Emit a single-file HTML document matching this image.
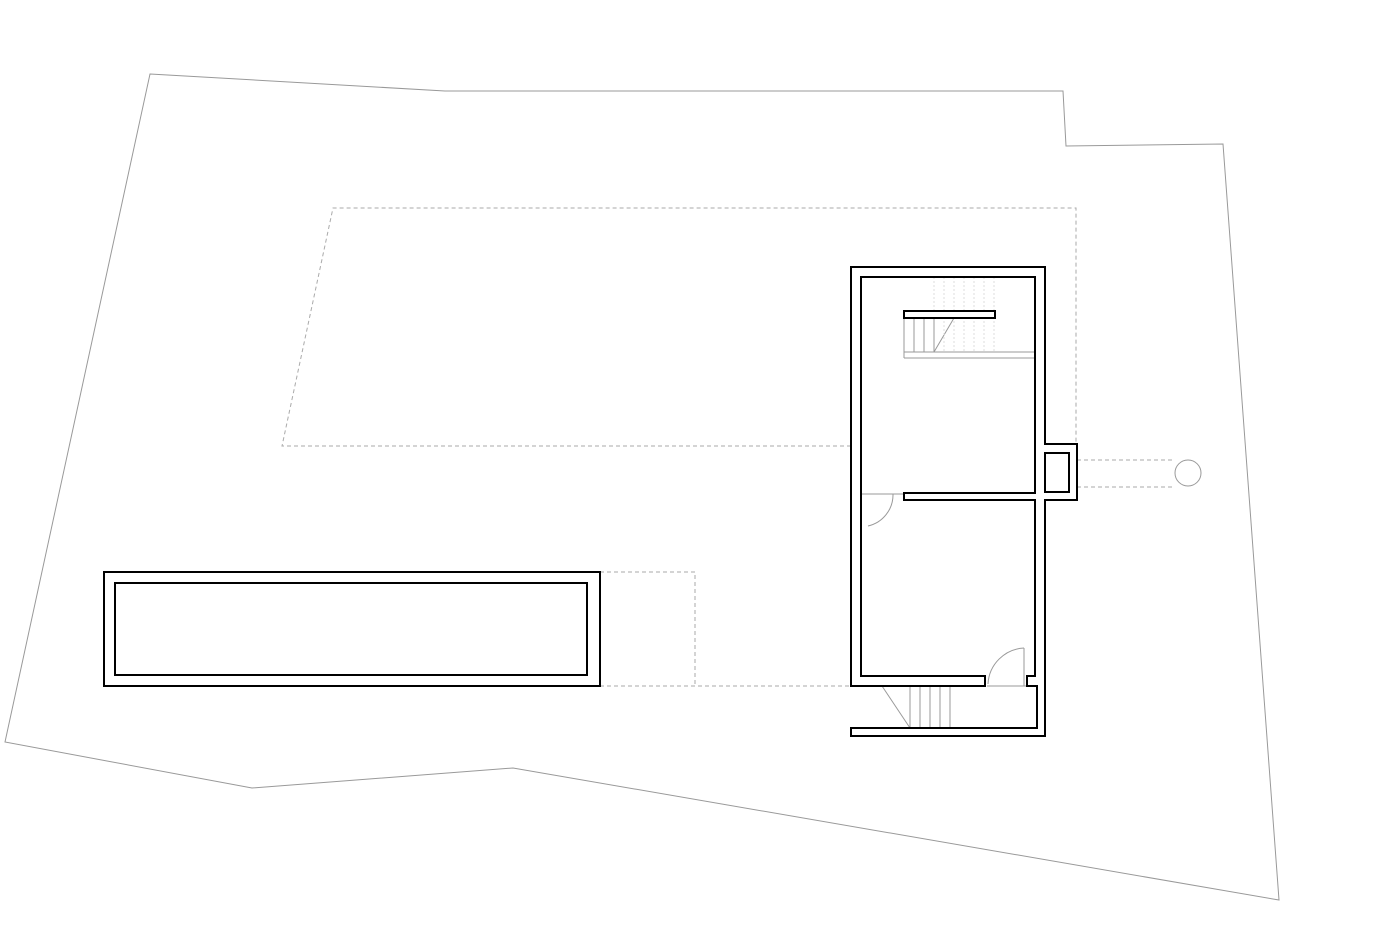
<!DOCTYPE html>
<html><head><meta charset="utf-8"><style>html,body{margin:0;padding:0;background:#fff}svg{display:block}</style></head>
<body>
<svg width="1400" height="933" viewBox="0 0 1400 933" xmlns="http://www.w3.org/2000/svg">
<!-- site -->
<polygon points="150,74 445,91 1063,91 1066,146 1223,144 1279,900 513,768 252,788 5,742" fill="none" stroke="#999" stroke-width="1"/>
<!-- dashed -->
<g fill="none" stroke="#aaa" stroke-width="1" stroke-dasharray="4,3">
<polyline points="851,446 282,446 333,208 1076,208 1076,444"/>
<polyline points="600,572 695,572 695,686"/>
<line x1="600" y1="686" x2="851" y2="686"/>
<line x1="1077" y1="460" x2="1175" y2="460"/>
<line x1="1077" y1="487" x2="1175" y2="487"/>
</g>
<circle cx="1188" cy="473" r="13" fill="none" stroke="#999" stroke-width="1"/>
<!-- pool -->
<path d="M104,572H600V686H104Z M115,583V675H587V583Z" fill="#fff" fill-rule="evenodd" stroke="#000" stroke-width="2"/>
<!-- stairs upper -->
<g stroke="#999" stroke-width="1" fill="none">
<line x1="904" y1="352" x2="1035" y2="352"/>
<line x1="904" y1="358" x2="1035" y2="358"/>
<line x1="904" y1="318" x2="904" y2="358"/>
<line x1="914" y1="318" x2="914" y2="352"/>
<line x1="924" y1="318" x2="924" y2="352"/>
<line x1="934" y1="318" x2="934" y2="352"/>
<line x1="934" y1="352" x2="954" y2="318"/>
</g>
<g stroke="#ddd" stroke-width="1" stroke-dasharray="2,2">
<line x1="934" y1="277" x2="934" y2="311"/><line x1="944" y1="277" x2="944" y2="352"/><line x1="954" y1="277" x2="954" y2="352"/><line x1="964" y1="277" x2="964" y2="352"/><line x1="974" y1="277" x2="974" y2="352"/><line x1="984" y1="277" x2="984" y2="352"/><line x1="994" y1="277" x2="994" y2="352"/>
</g>
<!-- stairs lower -->
<g stroke="#999" stroke-width="1" fill="none">
<line x1="910" y1="686" x2="910" y2="728"/><line x1="920" y1="686" x2="920" y2="728"/><line x1="930" y1="686" x2="930" y2="728"/><line x1="940" y1="686" x2="940" y2="728"/><line x1="950" y1="686" x2="950" y2="728"/>
<line x1="882" y1="686" x2="910" y2="728"/>
<line x1="987" y1="686" x2="1027" y2="686"/>
<line x1="861" y1="494" x2="904" y2="494"/>
<path d="M893,494 A32,32 0 0 1 868,526"/>
<line x1="1024" y1="686" x2="1024" y2="648"/>
<path d="M1024,648 A38,38 0 0 0 988,684"/>
</g>
<!-- building walls -->
<path d="M851,267H1045V444H1077V500H1045V736H851V728H1037V686H1027V676H1035V500H904V493H1035V277H861V676H985V686H851Z" fill="#fff" stroke="#000" stroke-width="2" stroke-linejoin="miter"/>
<rect x="1045" y="453" width="24" height="39" fill="#fff" stroke="#000" stroke-width="2"/>
<rect x="904" y="311" width="91" height="7" fill="#fff" stroke="#000" stroke-width="2"/>
</svg>
</body></html>
